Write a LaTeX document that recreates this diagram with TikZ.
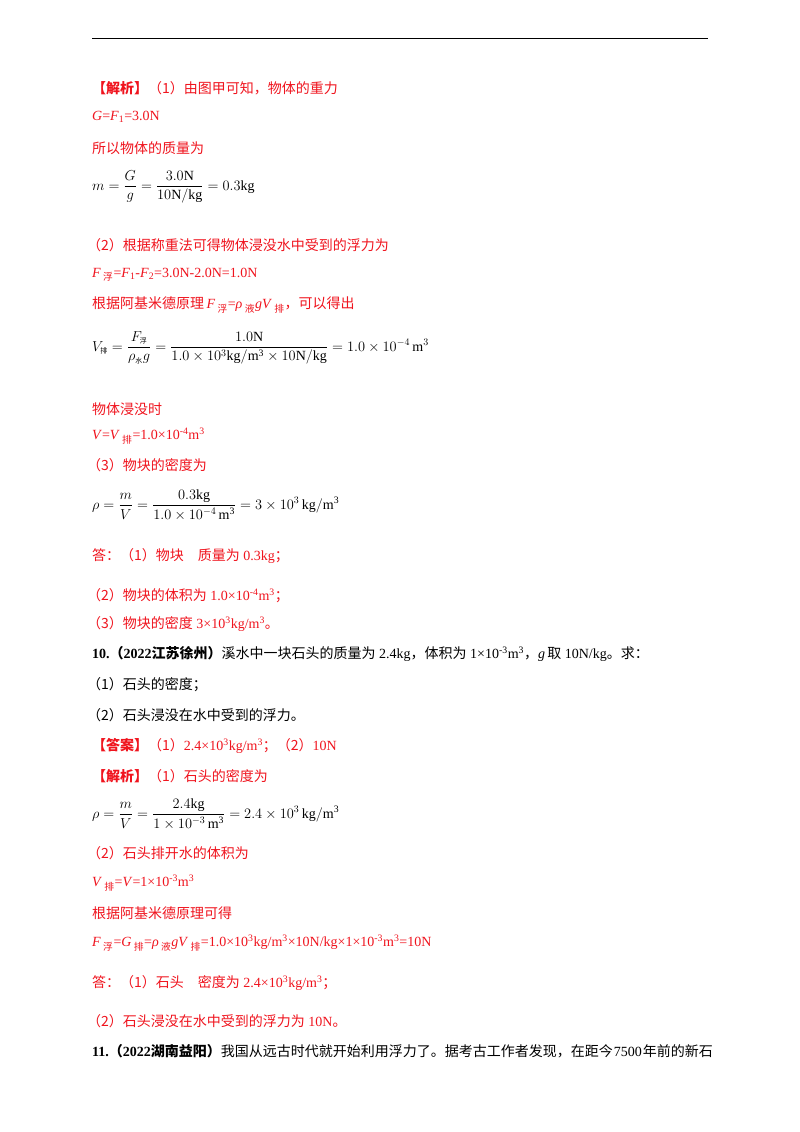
\documentclass[tikz,border=0pt]{standalone}
\usepackage{amsmath}
\usepackage{fontspec}
\setmainfont{Liberation Serif}
\newfontfamily\cjk{Noto Sans CJK SC}
\newcommand\Z[1]{{\cjk #1}}
\newcommand\zs[1]{\textsubscript{\Z{#1}}}
\newcommand\ms[1]{\text{\scriptsize\cjk #1}}
\definecolor{ansred}{RGB}{240,20,30}
\tikzset{ln/.style={anchor=west,inner sep=0pt,font=\fontsize{14}{16}\selectfont},
 rd/.style={ln,text=ansred},
 fm/.style={anchor=west,inner sep=0pt,font=\fontsize{14}{16}\selectfont}}
\begin{document}
\begin{tikzpicture}[x=1pt,y=-1pt]
\useasboundingbox[fill=white] (0,0) rectangle (800,1132);
\draw[line width=0.8pt] (92,38) -- (708,38);
\node[rd] (a1) at (92,88) {\Z{\textbf{【解析】}（1）由图甲可知，物体的重力}};
\node[rd] (a2) at (92,117) {\textit{G}=\textit{F}\textsubscript{1}=3.0N};
\node[rd] (a3) at (92,148) {\Z{所以物体的质量为}};
\node[fm] (f1) at (92,187) {$\displaystyle m=\frac{G}{g}=\frac{3.0\mathrm{N}}{10\mathrm{N/kg}}=0.3\mathrm{kg}$};
\node[rd] (a4) at (87,245) {\Z{（2）根据称重法可得物体浸没水中受到的浮力为}};
\node[rd] (a5) at (92,275) {\textit{F}\,\zs{浮}=\textit{F}\textsubscript{1}-\textit{F}\textsubscript{2}=3.0N-2.0N=1.0N};
\node[rd] (a6) at (92,305) {\Z{根据阿基米德原理}\,\textit{F}\,\zs{浮}=\textit{ρ}\,\zs{液}\textit{gV}\,\zs{排}\Z{，可以得出}};
\node[fm] (f2) at (92,348) {$\displaystyle V_{\ms{排}}=\frac{F_{\ms{浮}}}{\rho_{\ms{水}}g}=\frac{1.0\mathrm{N}}{1.0\times10^3\mathrm{kg/m^3}\times10\mathrm{N/kg}}=1.0\times10^{-4}\,\mathrm{m}^3$};
\node[rd] (a7) at (92,409) {\Z{物体浸没时}};
\node[rd] (a8) at (92,436) {\textit{V}=\textit{V}\,\zs{排}=1.0×10\textsuperscript{-4}m\textsuperscript{3}};
\node[rd] (a9) at (87,465) {\Z{（3）物块的密度为}};
\node[fm] (f3) at (92,505) {$\displaystyle \rho=\frac{m}{V}=\frac{0.3\mathrm{kg}}{1.0\times10^{-4}\,\mathrm{m^3}}=3\times10^3\,\mathrm{kg/m^3}$};
\node[rd] (a10) at (92,556) {\Z{答：（1）物块\quad 质量为} 0.3kg\Z{；}};
\node[rd] (a11) at (87,596) {\Z{（2）物块的体积为} 1.0×10\textsuperscript{-4}m\textsuperscript{3}\Z{；}};
\node[rd] (a12) at (87,624) {\Z{（3）物块的密度} 3×10\textsuperscript{3}kg/m\textsuperscript{3}\Z{。}};
\node[ln] (q10) at (92,654) {\textbf{10.\Z{（}2022\Z{江苏徐州）}}\Z{溪水中一块石头的质量为} 2.4kg\Z{，体积为} 1×10\textsuperscript{-3}m\textsuperscript{3}\Z{，}\textit{g}\,\Z{取} 10N/kg\Z{。求：}};
\node[ln] (q1) at (87,685) {\Z{（1）石头的密度；}};
\node[ln] (q2) at (87,715) {\Z{（2）石头浸没在水中受到的浮力。}};
\node[rd] (b1) at (92,746) {\Z{\textbf{【答案】}（1）}2.4×10\textsuperscript{3}kg/m\textsuperscript{3}\Z{；（2）}10N};
\node[rd] (b2) at (92,776) {\Z{\textbf{【解析】}（1）石头的密度为}};
\node[fm] (f4) at (92,814) {$\displaystyle \rho=\frac{m}{V}=\frac{2.4\mathrm{kg}}{1\times10^{-3}\,\mathrm{m^3}}=2.4\times10^3\,\mathrm{kg/m^3}$};
\node[rd] (b3) at (87,853) {\Z{（2）石头排开水的体积为}};
\node[rd] (b4) at (92,883) {\textit{V}\,\zs{排}=\textit{V}=1×10\textsuperscript{-3}m\textsuperscript{3}};
\node[rd] (b5) at (92,913) {\Z{根据阿基米德原理可得}};
\node[rd] (b6) at (92,943) {\textit{F}\,\zs{浮}=\textit{G}\,\zs{排}=\textit{ρ}\,\zs{液}\textit{gV}\,\zs{排}=1.0×10\textsuperscript{3}kg/m\textsuperscript{3}×10N/kg×1×10\textsuperscript{-3}m\textsuperscript{3}=10N};
\node[rd] (b7) at (92,983) {\Z{答：（1）石头\quad 密度为} 2.4×10\textsuperscript{3}kg/m\textsuperscript{3}\Z{；}};
\node[rd] (b8) at (87,1021) {\Z{（2）石头浸没在水中受到的浮力为} 10N\Z{。}};
\node[ln] (q11) at (92,1051) {\textbf{11.\Z{（}2022\Z{湖南益阳）}}\Z{我国从远古时代就开始利用浮力了。据考古工作者发现，在距今}\hspace{1pt}7500\hspace{1pt}\Z{年前的新石}};
\end{tikzpicture}
\end{document}
